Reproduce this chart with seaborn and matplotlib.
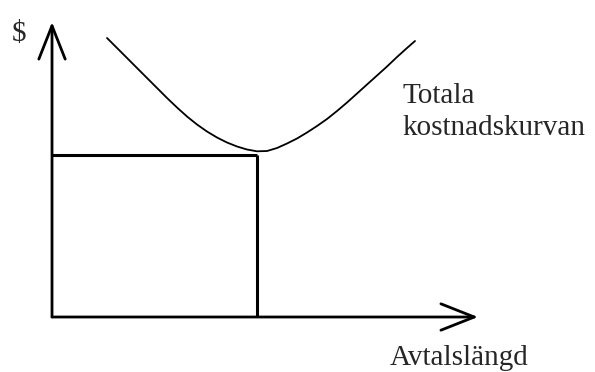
import matplotlib
matplotlib.use("Agg")
import matplotlib.pyplot as plt
import seaborn as sns
import pandas as pd

# ---- data ----
curve_x = [12.91, 15.26, 17.61, 19.95, 22.30, 24.65, 27.00, 29.34, 31.69, 34.04,
           36.38, 38.73, 41.08, 43.43, 45.77, 48.12, 50.47, 52.82, 55.16, 57.51,
           59.86, 62.21, 64.55, 66.90, 69.25, 71.60, 73.94, 76.29, 78.64, 80.99,
           83.33, 85.21]
curve_y = [94.58, 91.19, 87.80, 84.41, 81.02, 77.63, 74.24, 71.02, 67.97, 65.25,
           62.88, 60.85, 59.15, 57.80, 56.78, 56.17, 56.27, 57.29, 58.81, 60.51,
           62.54, 64.75, 67.12, 69.83, 72.71, 75.76, 78.81, 81.86, 84.92, 88.14,
           91.19, 93.56]
opt_x = 48.1          # optimal contract length
opt_y = 54.9          # minimal total cost
axis_max_x = 100
axis_max_y = 100

y_label = "$"
x_label = "Avtalslängd"
curve_label = ["Totala", "kostnadskurvan"]

# ---- figure ----
sns.set_style("white")
plt.rcParams['font.family'] = ['Liberation Serif', 'DejaVu Serif']

fig = plt.figure(figsize=(5.95, 3.72), dpi=100)
ax = fig.add_axes([0, 0, 1, 1])
ax.set_xlim(-12.21, 127.46)
ax.set_ylim(-18.64, 107.46)
ax.axis('off')

df = pd.DataFrame({"x": curve_x, "y": curve_y})
sns.lineplot(data=df, x="x", y="y", sort=False, color="black", lw=1.3, ax=ax)

# optimum rectangle lines
ax.plot([0, opt_x], [opt_y, opt_y], color="black", lw=2.2, solid_capstyle="butt")
ax.plot([opt_x, opt_x], [0, opt_y], color="black", lw=2.2, solid_capstyle="butt")

# axes with open arrowheads
arrow_kw = dict(arrowstyle="->,head_length=24,head_width=9.5", mutation_scale=1,
                color="black", lw=2.0, shrinkA=0, shrinkB=0)
ax.annotate("", xy=(0, axis_max_y), xytext=(0, 0), arrowprops=arrow_kw)
ax.annotate("", xy=(axis_max_x, 0), xytext=(0, 0), arrowprops=arrow_kw)

fs = 21
ax.text(-9.4, 93.6, y_label, fontsize=fs, ha="left", va="baseline")
ax.text(79.3, -16.3, x_label, fontsize=fs, ha="left", va="baseline")
ax.text(82.2, 72.5, curve_label[0], fontsize=fs, ha="left", va="baseline")
ax.text(82.2, 61.7, curve_label[1], fontsize=fs, ha="left", va="baseline")

fig.savefig("out.png", dpi=100, facecolor="white")
